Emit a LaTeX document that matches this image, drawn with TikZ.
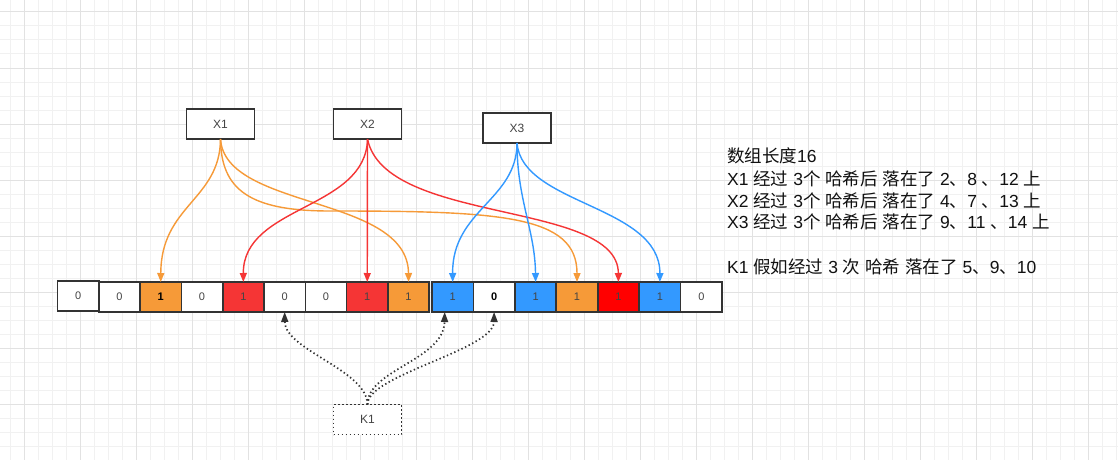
\documentclass[tikz,border=0pt]{standalone}
\usepackage{fontspec}
\setmainfont{Liberation Sans}
\newfontfamily\cjk{Noto Sans CJK SC}
\newcommand\zh[1]{{\cjk #1}}
\usetikzlibrary{arrows.meta}
\definecolor{gminor}{HTML}{F1F1F1}
\definecolor{gmajor}{HTML}{E2E2E2}
\definecolor{corange}{HTML}{F69A38}
\definecolor{cred}{HTML}{F53535}
\definecolor{cbright}{HTML}{FF0000}
\definecolor{cblue}{HTML}{3399FF}
\definecolor{cborder}{HTML}{333333}
\definecolor{ctext}{HTML}{444444}
\definecolor{infotext}{HTML}{111111}
\begin{document}
\begin{tikzpicture}[x=1pt,y=-1pt,
  cell/.style={draw=cborder,line width=1.6pt,minimum width=41.3pt,minimum height=30pt,inner sep=0pt,outer sep=0pt,font=\fontsize{11}{11}\selectfont,text=ctext},
  hbox/.style={draw=cborder,line width=1.6pt,fill=white,minimum width=68pt,minimum height=30pt,inner sep=0pt,outer sep=0pt,font=\fontsize{12}{12}\selectfont,text=ctext},
  kbox/.style={hbox,dash pattern=on 1.6pt off 2.4pt},
  link/.style={line width=1.4pt,-{Triangle[length=9pt,width=7pt]}},
  dotlink/.style={cborder,line width=1.7pt,dash pattern=on 1.4pt off 2.6pt,-{Triangle[length=10pt,width=7pt]}},
  info/.style={anchor=base west,font=\fontsize{17.5}{17.5}\selectfont,text=infotext,inner sep=0pt}
]
\useasboundingbox (0,0) rectangle (1118,460);
\fill[white] (0,0) rectangle (1118,460);
% grid
\foreach \i in {0,...,79} \draw[gminor,line width=1pt] ({10+14*\i},0) -- ({10+14*\i},460);
\foreach \j in {0,...,32} \draw[gminor,line width=1pt] (0,{12+14*\j}) -- (1118,{12+14*\j});
\foreach \i in {0,...,19} \draw[gmajor,line width=1pt] ({24+56*\i},0) -- ({24+56*\i},460);
\foreach \j in {0,...,8} \draw[gmajor,line width=1pt] (0,{12+56*\j}) -- (1118,{12+56*\j});

% hash boxes
\node[hbox] (x1) at (220.5,124) {X1};
\node[hbox] (x2) at (367.5,124) {X2};
\node[hbox] (x3) at (517,128) {X3};
\node[kbox] (k1) at (367.5,419.5) {K1};

% array cells
\node[cell,fill=white] (c1) at (78.15,296) {0};
\node[cell,fill=white] (c2) at (119.45,297) {0};
\node[cell,fill=corange,text=black] (c3) at (160.75,297) {\textbf{1}};
\node[cell,fill=white] (c4) at (202.05,297) {0};
\node[cell,fill=cred] (c5) at (243.35,297) {1};
\node[cell,fill=white] (c6) at (284.65,297) {0};
\node[cell,fill=white] (c7) at (325.95,297) {0};
\node[cell,fill=cred] (c8) at (367.25,297) {1};
\node[cell,fill=corange] (c9) at (408.55,297) {1};
\node[cell,fill=cblue] (c10) at (452.7,297) {1};
\node[cell,fill=white,text=black] (c11) at (494.1,297) {\textbf{0}};
\node[cell,fill=cblue] (c12) at (535.6,297) {1};
\node[cell,fill=corange] (c13) at (577.0,297) {1};
\node[cell,fill=cbright] (c14) at (618.4,297) {1};
\node[cell,fill=cblue] (c15) at (659.9,297) {1};
\node[cell,fill=white] (c16) at (701.3,297) {0};

% X1 links
\draw[link,corange] (x1.south) .. controls (220,200) and (161,205) .. (c3.north);
\draw[link,corange] (x1.south) .. controls (225,210) and (408,195) .. (c9.north);
\draw[link,corange] (x1.south) .. controls (221,190) and (250,211) .. (330,211) .. controls (500,211) and (577,215) .. (c13.north);
% X2 links
\draw[link,cred] (x2.south) .. controls (366,210) and (243,205) .. (c5.north);
\draw[link,cred] (x2.south) -- (c8.north);
\draw[link,cred] (x2.south) .. controls (385,225) and (618,200) .. (c14.north);
% X3 links
\draw[link,cblue] (x3.south) .. controls (517,200) and (452,210) .. (c10.north);
\draw[link,cblue] (x3.south) .. controls (517,200) and (535,230) .. (c12.north);
\draw[link,cblue] (x3.south) .. controls (522,205) and (660,205) .. (c15.north);
% K1 links
\draw[dotlink] (k1.north) .. controls (367,370) and (285,350) .. (c6.south);
\draw[dotlink] (k1.north) .. controls (367,370) and (444,360) .. ([xshift=-8pt]c10.south);
\draw[dotlink] (k1.north) .. controls (367,375) and (494,350) .. (c11.south);

% description
\node[info] (t1) at (727,162) {\zh{数组长度}16};
\node[info] (t2) at (727,185) {X1 \zh{经过} 3\zh{个} \zh{哈希后} \zh{落在了} 2\zh{、}8 \zh{、}12 \zh{上}};
\node[info] (t3) at (727,207) {X2 \zh{经过} 3\zh{个} \zh{哈希后} \zh{落在了} 4\zh{、}7 \zh{、}13 \zh{上}};
\node[info] (t4) at (727,228.5) {X3 \zh{经过} 3\zh{个} \zh{哈希后} \zh{落在了} 9\zh{、}11 \zh{、}14 \zh{上}};
\node[info] (t5) at (727,273) {K1 \zh{假如经过} 3 \zh{次} \zh{哈希} \zh{落在了} 5\zh{、}9\zh{、}10};
\end{tikzpicture}
\end{document}
